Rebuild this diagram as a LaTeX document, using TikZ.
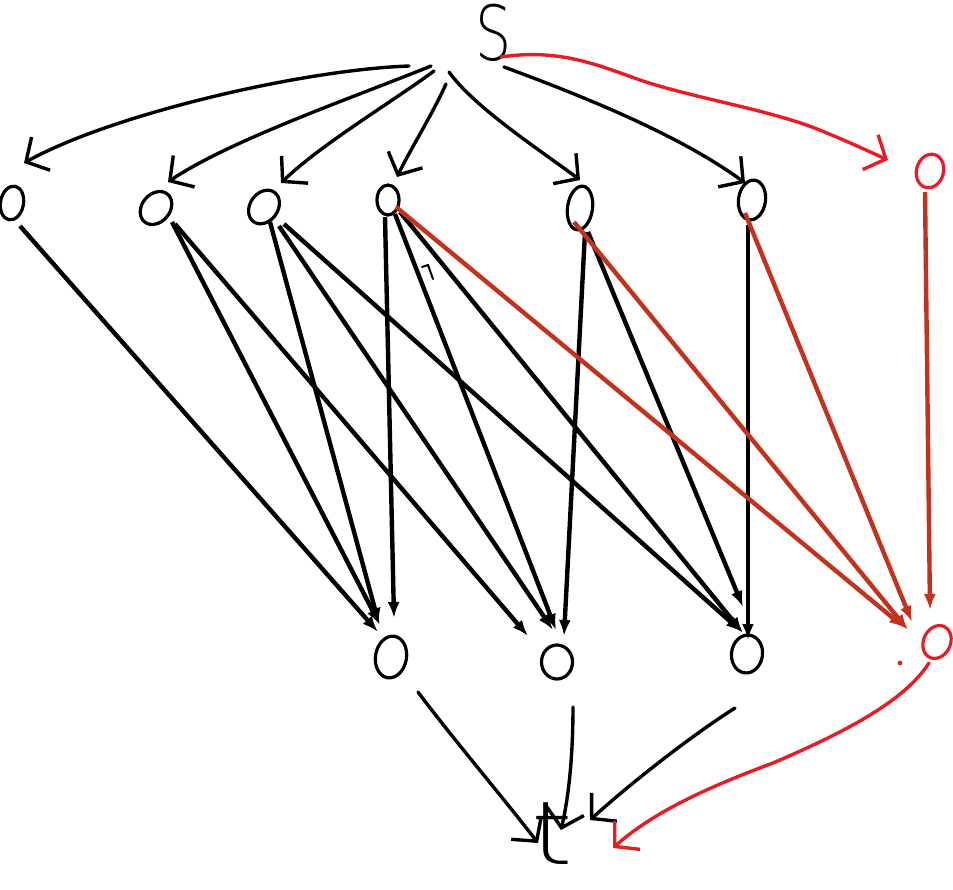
\documentclass[tikz,border=0pt]{standalone}
\usepackage{fontspec}
\newfontfamily\handfont{DejaVuSans-ExtraLight.ttf}
\usetikzlibrary{arrows.meta,shapes.geometric}
\definecolor{handred}{RGB}{232,28,36}
\definecolor{arrred}{RGB}{196,50,30}
\begin{document}
\begin{tikzpicture}[x=1pt,y=-1pt,
  vx/.style={draw, ellipse, line width=3.2pt, inner sep=0pt},
  rvx/.style={vx, draw=handred},
  mid/.style={line width=4.4pt, -{Latex[length=16pt,width=12pt]}},
  midred/.style={mid, draw=arrred, color=arrred},
  hand/.style={line width=3.4pt, line cap=round, -{Straight Barb[length=17pt,width=38pt]}},
  handr/.style={hand, draw=handred, color=handred},
  lbl/.style={inner sep=0pt, font=\handfont}
]
\useasboundingbox (0,0) rectangle (953,889);

% source and sink
\node[lbl, font=\handfont\fontsize{76}{76}\selectfont, xscale=0.75] (S) at (494,33) {S};
\node[lbl, font=\handfont\fontsize{88}{88}\selectfont, xscale=1.2] (t) at (552,834) {t};

% top layer
\node[vx, minimum width=23pt, minimum height=34pt, rotate=-10] (a1) at (12,203) {};
\node[vx, minimum width=28pt, minimum height=36pt, rotate=-40] (a2) at (156,208) {};
\node[vx, minimum width=28pt, minimum height=36pt, rotate=-35] (a3) at (264,207) {};
\node[vx, minimum width=22pt, minimum height=30pt] (a4) at (388,200) {};
\node[vx, minimum width=25pt, minimum height=44pt, rotate=-8] (a5) at (580,208) {};
\node[vx, minimum width=27pt, minimum height=40pt, rotate=-8] (a6) at (752,200) {};
\node[rvx, minimum width=27pt, minimum height=34pt, rotate=-15] (a7) at (930,171) {};

% middle layer
\node[vx, minimum width=31pt, minimum height=42pt, rotate=-10] (m1) at (391,657) {};
\node[vx, minimum width=31pt, minimum height=34pt] (m2) at (557,662) {};
\node[vx, minimum width=31pt, minimum height=38pt, rotate=-8] (m3) at (747,654) {};
\node[rvx, minimum width=27pt, minimum height=34pt, rotate=-25] (m4) at (937,642) {};

% source edges (hand drawn)
\draw[hand] ([shift={(-85,33)}]S.center) .. controls (300,70) and (110,115) .. ([shift={(12,-40)}]a1.center);
\draw[hand] ([shift={(-63,33)}]S.center) .. controls (360,95) and (230,140) .. ([shift={(12,-26)}]a2.center);
\draw[hand] ([shift={(-60,38)}]S.center) .. controls (395,100) and (320,145) .. ([shift={(17,-24)}]a3.center);
\draw[hand] ([shift={(-48,51)}]S.center) .. controls (432,115) and (410,150) .. ([shift={(9,-23)}]a4.center);
\draw[hand] ([shift={(-45,39)}]S.center) .. controls (475,108) and (540,150) .. ([shift={(0,-28)}]a5.center);
\draw[hand] ([shift={(10,34)}]S.center) .. controls (580,95) and (680,135) .. ([shift={(-7,-17)}]a6.center);
\draw[handr] ([shift={(7,24)}]S.center) .. controls (560,48) and (600,66) .. (640,80)
   .. controls (690,97) and (760,108) .. (812,127)
   .. controls (845,140) and (870,152) .. ([shift={(-42,-11)}]a7.center);

% top -> middle (black)
\draw[mid] ([shift={(8,23)}]a1.center) -- ([shift={(-13,-25)}]m1.center);
\draw[mid] ([shift={(16,14)}]a2.center) -- ([shift={(-11,-32)}]m1.center);
\draw[mid] ([shift={(19,16)}]a2.center) -- ([shift={(-29,-26)}]m2.center);
\draw[mid] ([shift={(6,15)}]a3.center) -- ([shift={(-12,-33)}]m1.center);
\draw[mid] ([shift={(15,19)}]a3.center) -- ([shift={(-4,-32)}]m2.center);
\draw[mid] ([shift={(20,17)}]a3.center) -- ([shift={(-5,-22)}]m3.center);
\draw[mid] ([shift={(-3,17)}]a4.center) -- ([shift={(3,-39)}]m1.center);
\draw[mid] ([shift={(7,14)}]a4.center) -- ([shift={(-1,-32)}]m2.center);
\draw[mid] ([shift={(12,12)}]a4.center) -- ([shift={(-4,-21)}]m3.center);
\draw[mid] ([shift={(5,24)}]a5.center) -- ([shift={(7,-26)}]m2.center);
\draw[mid] ([shift={(8,24)}]a5.center) -- ([shift={(-4,-47)}]m3.center);
\draw[mid] ([shift={(-4,25)}]a6.center) -- ([shift={(1,-14)}]m3.center);

% top -> middle (red)
\draw[midred] ([shift={(8,7)}]a4.center) -- ([shift={(-32,-14)}]m4.center);
\draw[midred] ([shift={(-6,14)}]a5.center) -- ([shift={(-29,-12)}]m4.center);
\draw[midred] ([shift={(-7,13)}]a6.center) -- ([shift={(-25,-20)}]m4.center);
\draw[midred] ([shift={(-5,21)}]a7.center) -- ([shift={(-7,-32)}]m4.center);

% middle -> sink (hand drawn)
\draw[hand] ([shift={(27,35)}]m1.center) .. controls (450,735) and (505,800) .. ([shift={(-14,9)}]t.center);
\draw[hand] ([shift={(16,45)}]m2.center) .. controls (573,760) and (568,800) .. ([shift={(9,-4)}]t.center);
\draw[hand] ([shift={(-12,54)}]m3.center) .. controls (700,730) and (640,775) .. ([shift={(38,-14)}]t.center);
\draw[handr] ([shift={(-8,21)}]m4.center) .. controls (905,700) and (850,730) .. (773,763)
   .. controls (700,790) and (650,815) .. ([shift={(61,14)}]t.center);

% stray marks
\fill[handred] (900,663) circle (2.4pt);
\draw[line width=2pt, line cap=round] (422,267) -- (428,265) -- (433,279);
\end{tikzpicture}
\end{document}
